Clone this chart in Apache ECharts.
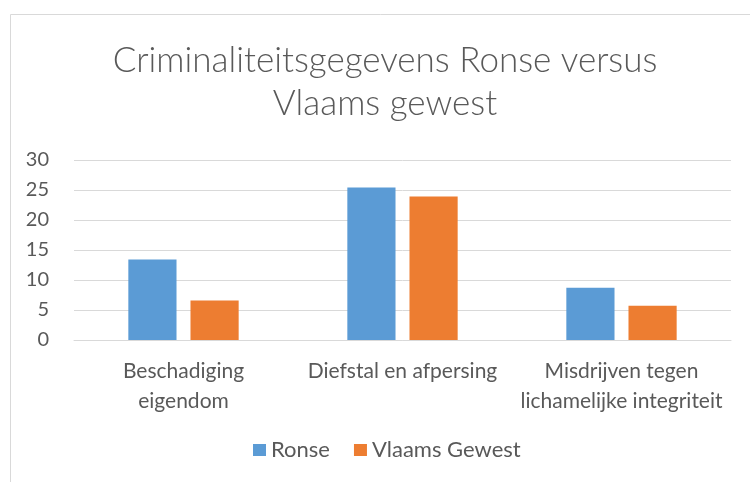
<!DOCTYPE html>
<html><head><meta charset="utf-8">
<script src="https://cdn.jsdelivr.net/npm/echarts@6/dist/echarts.min.js"></script>
<style>html,body{margin:0;padding:0;background:#fff}#c{width:750px;height:482px}</style>
</head><body><div id="c"></div>
<script>
const categories = ['Beschadiging\neigendom', 'Diefstal en afpersing', 'Misdrijven tegen\nlichamelijke integriteit'];
const ronse = [13.4, 25.4, 8.7];
const vlaams = [6.6, 23.9, 5.7];
const seriesNames = ['Ronse', 'Vlaams Gewest'];
const yTicks = {min: 0, max: 30, interval: 5};

const font = 'Lato, "Open Sans", sans-serif';
const chart = echarts.init(document.getElementById('c'));
chart.setOption({
  animation: false,
  graphic: [{type: 'rect', shape: {x: 10.5, y: 14.5, width: 760, height: 500}, style: {fill: 'none', stroke: '#d9d9d9', lineWidth: 1}}],
  title: {
    text: 'Criminaliteitsgegevens Ronse versus\nVlaams gewest',
    left: 380, top: 34,
    textAlign: 'center',
    textStyle: {fontFamily: font, fontWeight: 300, fontSize: 35, color: '#595959', lineHeight: 43}
  },
  legend: {
    bottom: 16, left: 248, itemWidth: 13, itemHeight: 12, itemGap: 24,
    icon: 'rect',
    textStyle: {fontFamily: font, fontSize: 22, color: '#595959'},
    data: seriesNames
  },
  grid: {left: 74, right: 19, top: 160, bottom: 142},
  xAxis: {
    type: 'category', data: categories,
    axisLine: {lineStyle: {color: '#d9d9d9'}},
    axisTick: {show: false},
    axisLabel: {fontFamily: font, fontSize: 21, color: '#595959', lineHeight: 30, margin: 16, interval: 0}
  },
  yAxis: {
    type: 'value', min: yTicks.min, max: yTicks.max, interval: yTicks.interval,
    axisLine: {show: false}, axisTick: {show: false},
    splitLine: {lineStyle: {color: '#d9d9d9', width: 1}},
    axisLabel: {fontFamily: font, fontSize: 20, color: '#595959', margin: 25}
  },
  series: [
    {name: seriesNames[0], type: 'bar', data: ronse, barWidth: '22%', barGap: '29%', itemStyle: {color: '#5B9BD5'}},
    {name: seriesNames[1], type: 'bar', data: vlaams, barWidth: '22%', itemStyle: {color: '#ED7D31'}}
  ]
});
</script></body></html>
